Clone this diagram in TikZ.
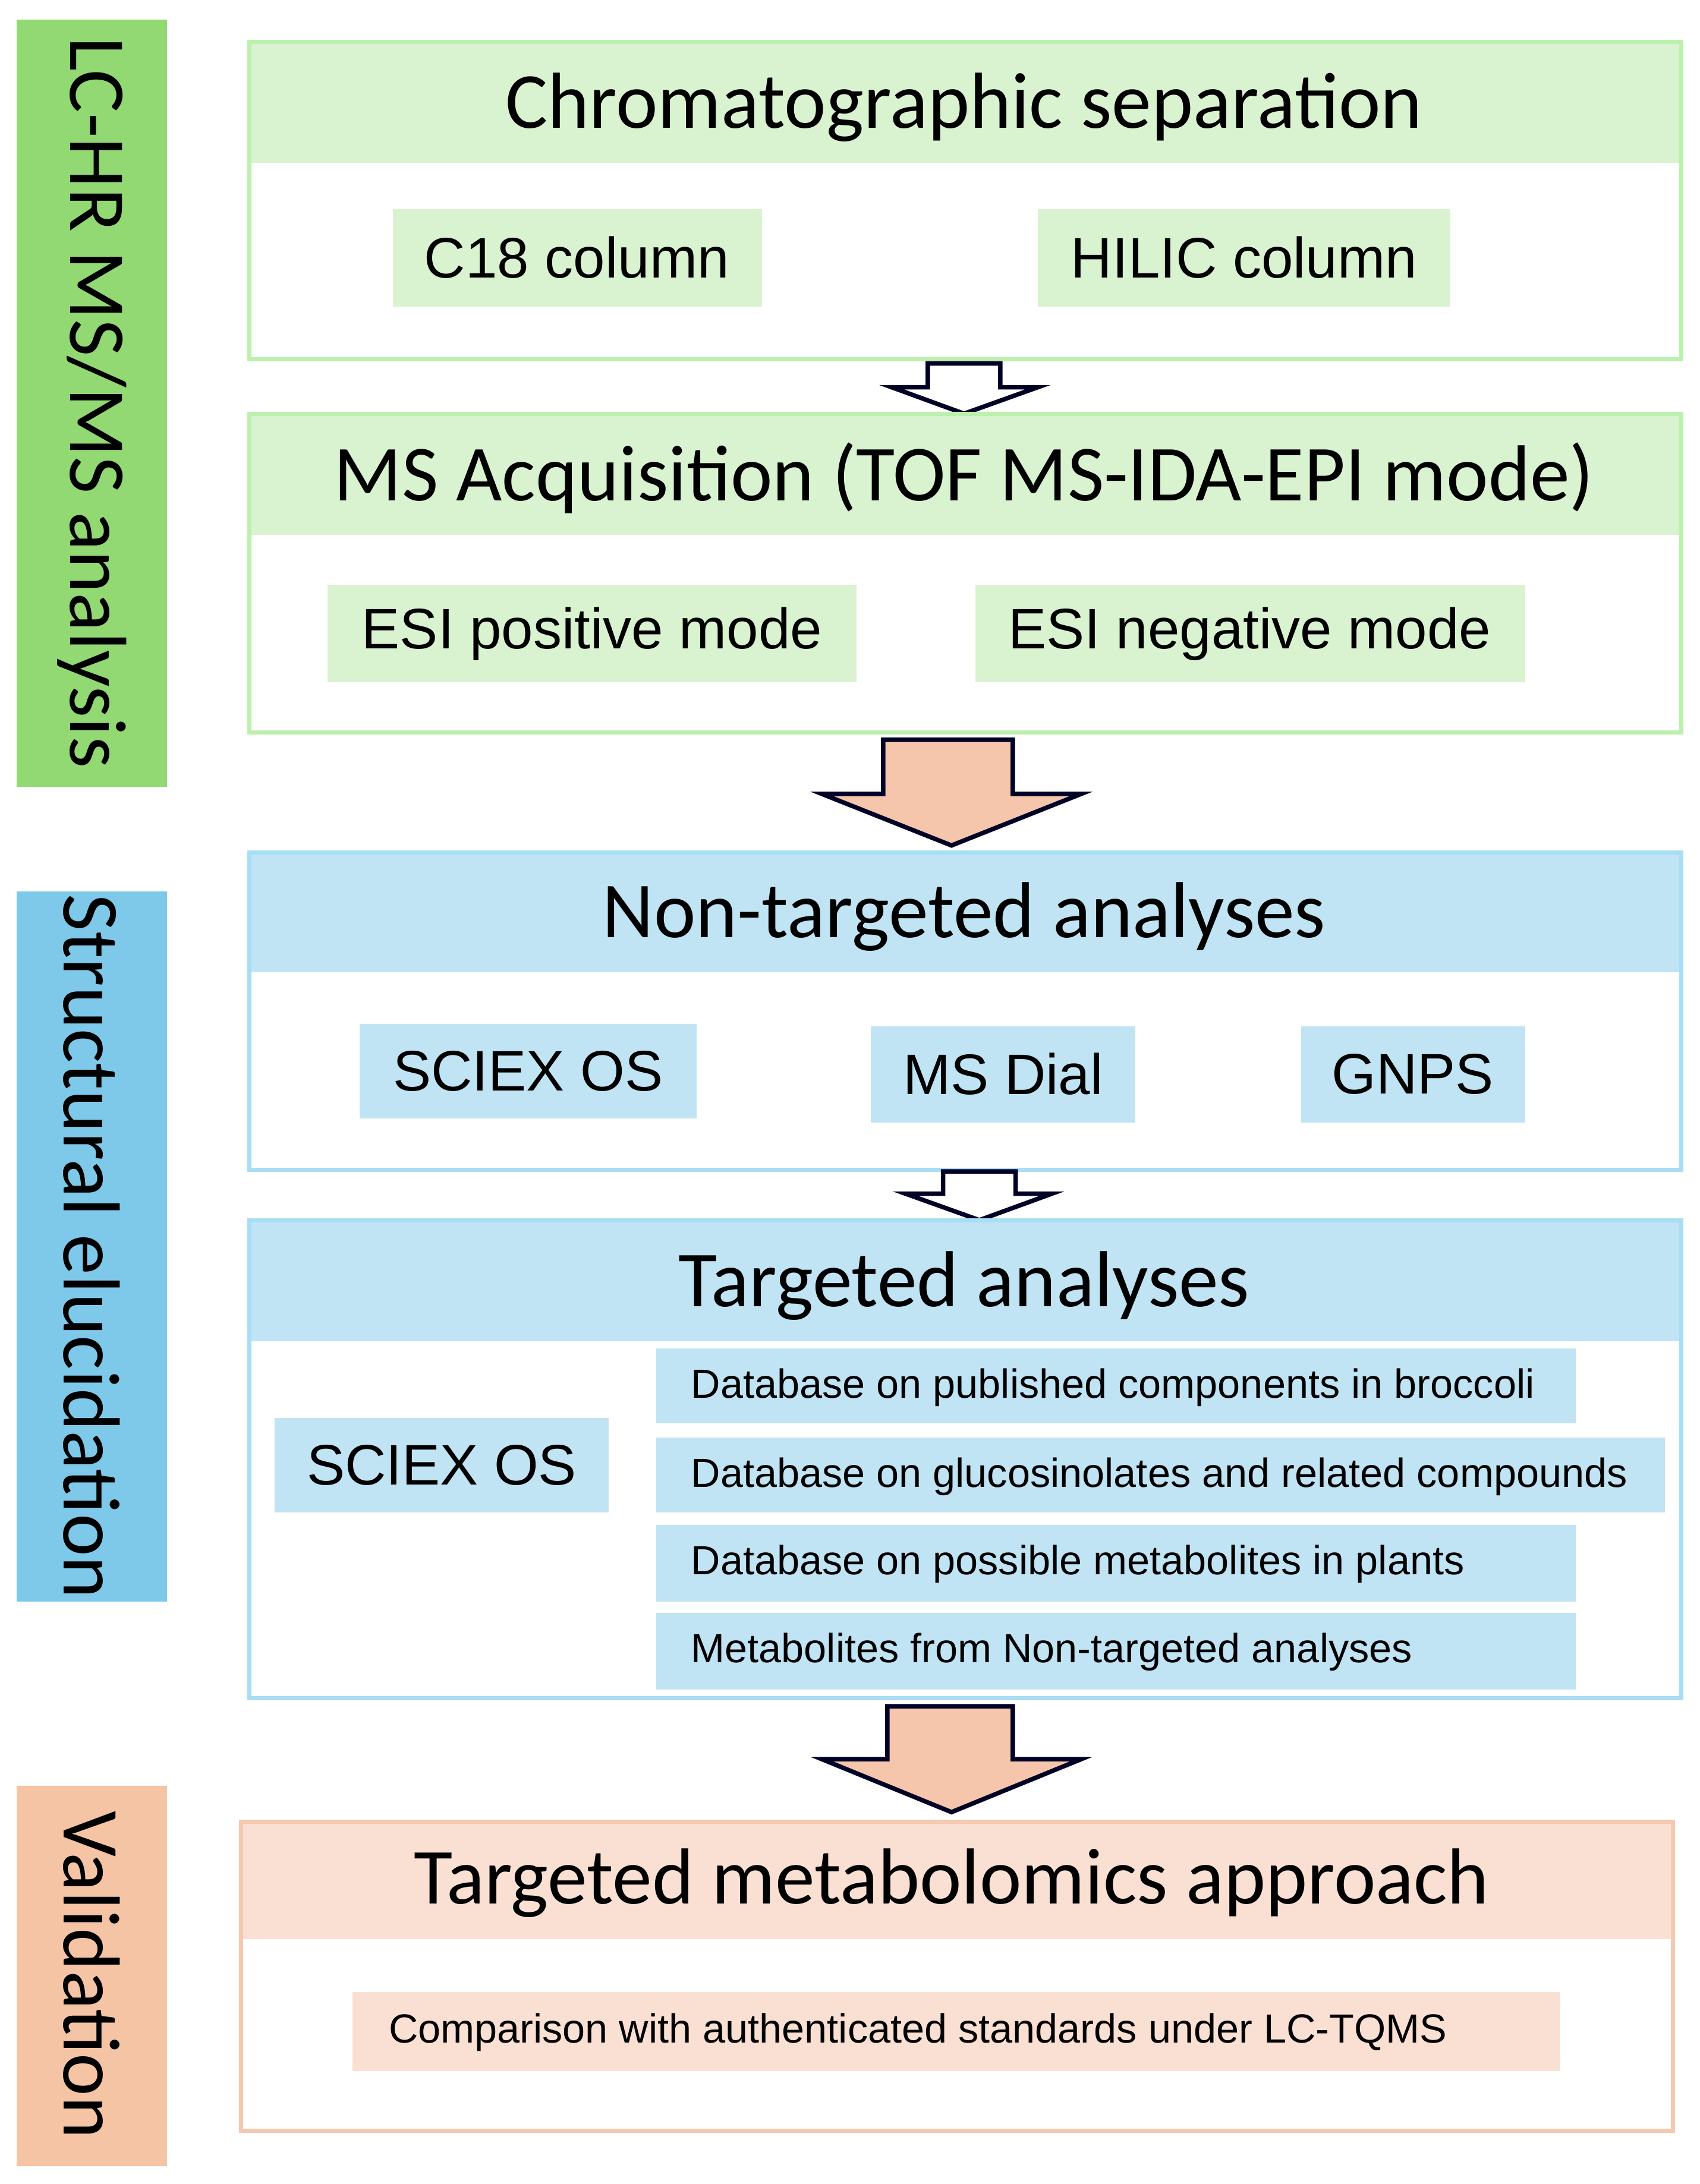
\documentclass[tikz,border=0pt]{standalone}
\usepackage{fontspec}
\setmainfont{Liberation Sans}
\newfontfamily\titlef{Carlito}
\begin{document}
\begin{tikzpicture}[x=0.5pt,y=-0.5pt,
  sidetext/.style={rotate=-90,font=\titlef\fontsize{29}{29}\selectfont},
  outer/.style={line width=1.5pt},
  head/.style={font=\titlef\fontsize{28.5}{28.5}\selectfont},
  sub/.style={font=\fontsize{20.5}{20.5}\selectfont},
  dbt/.style={font=\fontsize{14.6}{14.6}\selectfont,anchor=west},
  darrow/.style={draw=black!85!blue,line width=1.6pt,line join=miter}]
\definecolor{gside}{RGB}{146,216,115}
\definecolor{gfill}{RGB}{217,242,208}
\definecolor{gline}{RGB}{189,239,175}
\definecolor{bside}{RGB}{126,200,234}
\definecolor{bfill}{RGB}{192,228,244}
\definecolor{bline}{RGB}{168,221,243}
\definecolor{oside}{RGB}{244,196,164}
\definecolor{ofill}{RGB}{250,224,211}
\definecolor{oline}{RGB}{245,201,177}
\definecolor{oarrow}{RGB}{246,198,172}
\useasboundingbox (0,0) rectangle (1220,1568);
% side bars
\fill[gside] (12,14) rectangle (120,565);
\node[sidetext] (s1) at (66,289) {LC-HR MS/MS analysis};
\fill[bside] (12,640) rectangle (120,1150);
\node[sidetext] (s2) at (66,895) {Structural elucidation};
\fill[oside] (12,1282) rectangle (120,1555);
\node[sidetext] (s3) at (66,1418) {Validation};
% box 1
\fill[gfill] (179,30) rectangle (1207,117);
\draw[gline,outer] (179,30) rectangle (1207,258);
\node[head] (h1) at (692,77) {Chromatographic separation};
\fill[gfill] (282,150) rectangle (547,220); \node[sub] (c18) at (414,185) {C18 column};
\fill[gfill] (745,150) rectangle (1041,220); \node[sub] (hil) at (893,185) {HILIC column};
% arrow 1
\draw[darrow,fill=white] (666,261) -- (718,261) -- (718,278) -- (745,278) -- (692,297) -- (640,278) -- (666,278) -- cycle;
% box 2
\fill[gfill] (179,297) rectangle (1207,384);
\draw[gline,outer] (179,297) rectangle (1207,526);
\node[head] (h2) at (692,343) {MS Acquisition (TOF MS-IDA-EPI mode)};
\fill[gfill] (235,420) rectangle (615,490); \node[sub] (esp) at (425,455) {ESI positive mode};
\fill[gfill] (700,420) rectangle (1095,490); \node[sub] (esn) at (897,455) {ESI negative mode};
% big arrow 1
\draw[darrow,fill=oarrow] (634,531) -- (727,531) -- (727,570) -- (776,570) -- (683,607) -- (590,570) -- (634,570) -- cycle;
% box 3
\fill[bfill] (179,612) rectangle (1207,698);
\draw[bline,outer] (179,612) rectangle (1207,840);
\node[head] (h3) at (692,658) {Non-targeted analyses};
\fill[bfill] (258,735) rectangle (500,803); \node[sub] (sc1) at (379,769) {SCIEX OS};
\fill[bfill] (625,737) rectangle (815,806); \node[sub] (msd) at (720,771) {MS Dial};
\fill[bfill] (934,737) rectangle (1095,806); \node[sub] (gnp) at (1014,771) {GNPS};
% arrow 2
\draw[darrow,fill=white] (677,841) -- (729,841) -- (729,857) -- (755,857) -- (703,876) -- (650,857) -- (677,857) -- cycle;
% box 4
\fill[bfill] (179,876) rectangle (1207,963);
\draw[bline,outer] (179,876) rectangle (1207,1219);
\node[head] (h4) at (692,923) {Targeted analyses};
\fill[bfill] (197,1018) rectangle (437,1086); \node[sub] (sc2) at (317,1052) {SCIEX OS};
\fill[bfill] (471,968) rectangle (1131,1022); \node[dbt] (d1) at (489,996) {Database on published components in broccoli};
\fill[bfill] (471,1032) rectangle (1195,1086); \node[dbt] (d2) at (489,1060) {Database on glucosinolates and related compounds};
\fill[bfill] (471,1095) rectangle (1131,1150); \node[dbt] (d3) at (489,1123) {Database on possible metabolites in plants};
\fill[bfill] (471,1158) rectangle (1131,1213); \node[dbt] (d4) at (489,1186) {Metabolites from Non-targeted analyses};
% big arrow 2
\draw[darrow,fill=oarrow] (637,1225) -- (727,1225) -- (727,1263) -- (776,1263) -- (683,1301) -- (590,1263) -- (637,1263) -- cycle;
% box 5
\fill[ofill] (173,1308) rectangle (1201,1392);
\draw[oline,outer] (173,1308) rectangle (1201,1530);
\node[head] (h5) at (683,1352) {Targeted metabolomics approach};
\fill[ofill] (253,1430) rectangle (1120,1487); \node[dbt] (cmp) at (272,1459) {Comparison with authenticated standards under LC-TQMS};
\end{tikzpicture}
\end{document}
